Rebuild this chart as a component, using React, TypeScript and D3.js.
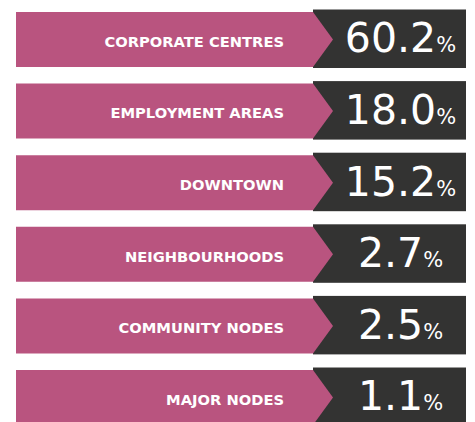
import React from "react";
import * as d3 from "d3";

const categories = [
  "CORPORATE CENTRES",
  "EMPLOYMENT AREAS",
  "DOWNTOWN",
  "NEIGHBOURHOODS",
  "COMMUNITY NODES",
  "MAJOR NODES",
];
const values = [60.2, 18.0, 15.2, 2.7, 2.5, 1.1];

const W = 475;
const H = 422;
const PINK = "#b9547f";
const DARK = "#333332";

export default function App() {
  const y = d3.scaleBand<string>().domain(categories).range([12, 425]).paddingInner(0.232);
  const x = d3.scaleLinear().domain([0, 1]).range([16, 466]);
  const bw = y.bandwidth();
  const arrowStart = 313;
  const tip = 333;
  const fmt = d3.format(".1f");
  return (
    <svg width={W} height={H} style={{ position: "absolute", left: 0, top: 0 }} fontFamily="'DejaVu Sans', sans-serif">
      <rect x={0} y={0} width={W} height={H} fill="#ffffff" />
      {categories.map((c, i) => {
        const top = y(c) as number;
        const path = d3.path();
        path.moveTo(x(0), top);
        path.lineTo(arrowStart, top);
        path.lineTo(tip, top + bw / 2);
        path.lineTo(arrowStart, top + bw);
        path.lineTo(x(0), top + bw);
        path.closePath();
        return (
          <g key={c}>
            <rect x={arrowStart} y={top - 2.5} width={x(1) - arrowStart} height={bw + 3.5} fill={DARK} />
            <path d={path.toString()} fill={PINK} />
            <text x={284} y={top + 34.7} textAnchor="end" fill="#fff" fontSize={14.7} fontWeight={700}>
              {c}
            </text>
            <text x={(tip + x(1)) / 2 + 1} y={top + 40.3} textAnchor="middle" fill="#fff" fontWeight={400}>
              <tspan fontSize={41}>{fmt(values[i])}</tspan>
              <tspan fontSize={21}>%</tspan>
            </text>
          </g>
        );
      })}
    </svg>
  );
}
